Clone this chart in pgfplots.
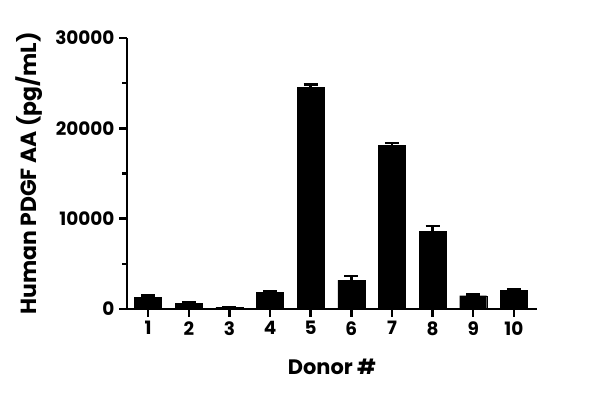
\documentclass[border=0pt]{standalone}
\usepackage{fontspec}
\setmainfont{Poppins}
\usepackage{pgfplots}
\pgfplotsset{compat=1.18}
\begin{document}
\begin{tikzpicture}
\path[use as bounding box] (0,0) rectangle (600bp,398bp);
\begin{axis}[
  at={(127bp,89bp)}, anchor=south west,
  scale only axis, width=410bp, height=271bp,
  xmin=0.48, xmax=10.57, ymin=0, ymax=30000,
  axis x line*=bottom, axis y line*=left,
  axis line style={line width=2.8bp, black},
  every tick/.style={line width=2.5bp, black},
  major tick length=8bp, minor tick length=5bp,
  tick align=outside,
  xtick={1,2,3,4,5,6,7,8,9,10},
  ytick={0,10000,20000,30000},
  minor ytick={5000,15000,25000},
  scaled y ticks=false,
  /pgf/number format/assume math mode=true,
  /pgf/number format/set thousands separator={},
  ticklabel style={font=\fontsize{18.5}{18.5}\selectfont\bfseries},
  yticklabel style={xshift=-1bp},
  xticklabel style={yshift=-1bp},
  ylabel={Human PDGF AA (pg/mL)},
  xlabel={Donor \#},
  label style={font=\fontsize{21}{21}\selectfont\bfseries},
  ylabel style={at={(axis description cs:-0.238,0.5)}, anchor=center, font=\fontsize{22}{22}\selectfont\bfseries},
  xlabel style={at={(axis description cs:0.5,-0.24)}, anchor=base},
  ybar, bar width=27bp,
  clip=false,
]
\addplot[fill=black, draw=black,
  error bars/.cd, y dir=plus, y explicit,
  error bar style={line width=2.5bp, black},
  error mark options={rotate=90, mark size=7bp, line width=2.5bp, black}]
  coordinates {
  (1,1300) +- (0,220)
  (2,630) +- (0,150)
  (3,180) +- (0,40)
  (4,1880) +- (0,30)
  (5,24540) +- (0,290)
  (6,3210) +- (0,440)
  (7,18120) +- (0,260)
  (8,8630) +- (0,560)
  (9,1470) +- (0,150)
  (10,2030) +- (0,150)
  };
\end{axis}
\end{tikzpicture}
\end{document}
